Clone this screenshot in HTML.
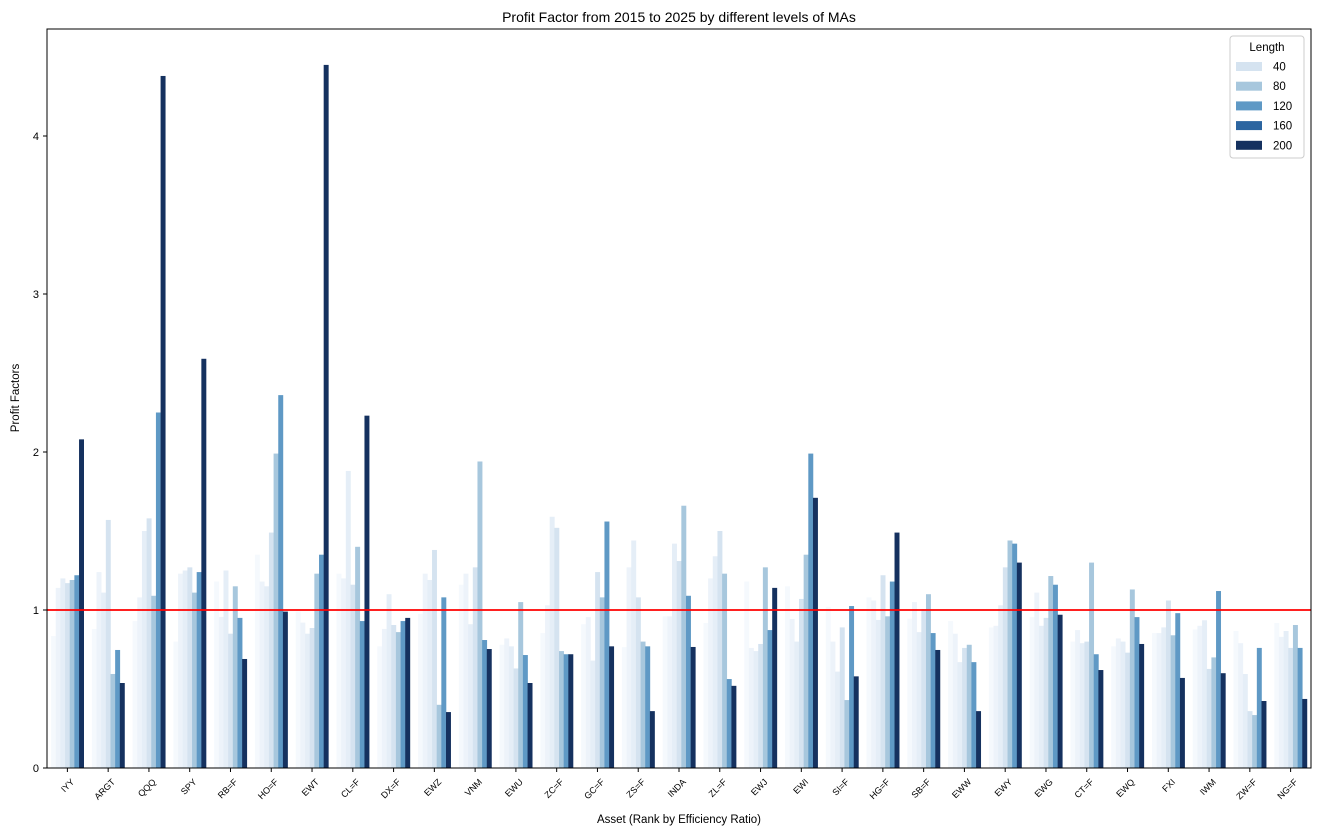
<!DOCTYPE html>
<html><head><meta charset="utf-8"><style>
body{margin:0;background:#fff;}
svg{display:block;font-family:"Liberation Sans",sans-serif;}
</style></head><body>
<svg id="chart" width="1320" height="836" viewBox="0 0 1320 836">
<text x="679" y="22" font-size="14" text-anchor="middle">Profit Factor from 2015 to 2025 by different levels of MAs</text>
<g id="bars"></g>
<g id="yaxis"></g>
<g id="xaxis"></g>
<line x1="47" x2="1311" y1="610" y2="610" stroke="#ff0000" stroke-width="1.8"/>
<rect x="47" y="29" width="1264" height="739" fill="none" stroke="#000" stroke-width="1"/>
<text transform="translate(19,398) rotate(-90)" font-size="11.5" text-anchor="middle">Profit Factors</text>
<text x="679" y="823" font-size="11.5" text-anchor="middle">Asset (Rank by Efficiency Ratio)</text>
<g>
<rect x="1230" y="36" width="74" height="122" rx="3" fill="#fff" fill-opacity="0.8" stroke="#ccc"/>
<text x="1267" y="51" font-size="11.5" text-anchor="middle">Length</text>
<g id="legend-items"></g>
</g>
</svg>
<script>
const categories = ["IYY","ARGT","QQQ","SPY","RB=F","HO=F","EWT","CL=F","DX=F","EWZ","VNM","EWU","ZC=F","GC=F","ZS=F","INDA","ZL=F","EWJ","EWI","SI=F","HG=F","SB=F","EWW","EWY","EWG","CT=F","EWQ","FXI","IWM","ZW=F","NG=F"];
const s1 = [0.835,0.88,0.93,0.80,1.18,1.35,0.99,1.23,0.77,0.975,1.16,0.78,0.854,0.91,0.765,0.96,0.918,1.18,1.15,1.02,1.08,0.945,0.93,0.89,0.955,0.80,0.77,0.854,0.876,0.867,0.918];
const s2 = [1.14,1.24,1.08,1.23,0.956,1.18,0.92,1.20,0.88,1.23,1.23,0.82,1.03,0.955,1.27,0.96,1.20,0.76,0.943,0.80,1.06,1.05,0.85,0.90,1.11,0.873,0.82,0.854,0.90,0.79,0.83];
const s3 = [1.20,1.11,1.50,1.25,1.25,1.15,0.85,1.88,1.10,1.19,0.91,0.77,1.59,0.68,1.44,1.42,1.34,0.74,0.80,0.61,0.937,0.86,0.67,1.03,0.90,0.79,0.80,0.89,0.935,0.595,0.867];
const s4 = [1.17,1.57,1.58,1.27,0.85,1.49,0.886,1.16,0.905,1.38,1.27,0.63,1.52,1.24,1.08,1.31,1.50,0.785,1.07,0.89,1.22,1.006,0.76,1.27,0.95,0.80,0.73,1.06,0.627,0.36,0.76];
const s5 = [1.19,0.595,1.09,1.11,1.15,1.99,1.23,1.40,0.86,0.40,1.94,1.05,0.74,1.08,0.80,1.66,1.23,1.27,1.35,0.43,0.96,1.10,0.78,1.44,1.215,1.30,1.13,0.84,0.70,0.335,0.905];
const s6 = [1.22,0.747,2.25,1.24,0.95,2.36,1.35,0.93,0.93,1.08,0.81,0.715,0.72,1.56,0.77,1.09,0.563,0.873,1.99,1.025,1.18,0.854,0.67,1.42,1.16,0.72,0.955,0.98,1.12,0.76,0.76];
const s7 = [2.08,0.538,4.38,2.59,0.69,0.99,4.45,2.23,0.95,0.354,0.753,0.538,0.72,0.77,0.36,0.766,0.52,1.14,1.71,0.58,1.49,0.747,0.36,1.30,0.97,0.62,0.785,0.57,0.60,0.424,0.437];
const yTicks = [0,1,2,3,4];
const legendLabels = ["40","80","120","160","200"];

const series = [s1,s2,s3,s4,s5,s6,s7];
const colors = ["#f5f9fd","#edf3fa","#e5eef7","#d5e3f0","#a7c7dd","#5f99c5","#15315f"];
const legendColors = ["#d5e3f0","#a7c7dd","#5f99c5","#2c65a0","#15315f"];
const NS = "http://www.w3.org/2000/svg";
const L=47,R=1311,B=768,PXU=158;
const step=(R-L)/categories.length;
const xC=i=>L+step*(i+0.5);
const yS=v=>B-v*PXU;
const bw=step*0.8/series.length;
const bars=document.getElementById('bars');
series.forEach((s,k)=>{
  s.forEach((v,i)=>{
    const r=document.createElementNS(NS,'rect');
    
    
    const x=xC(i)-step*0.4+k*bw;
    r.setAttribute('x',x.toFixed(2));
    r.setAttribute('width',(bw+0.3).toFixed(2));
    r.setAttribute('y',yS(v).toFixed(2));
    r.setAttribute('height',(v*PXU).toFixed(2));
    r.setAttribute('fill',colors[k]);
    bars.appendChild(r);
  });
});
const ya=document.getElementById('yaxis');
yTicks.forEach(t=>{
  const y=yS(t);
  const ln=document.createElementNS(NS,'line');
  
  
  ln.setAttribute('x1',L-4);ln.setAttribute('x2',L);ln.setAttribute('y1',y);ln.setAttribute('y2',y);ln.setAttribute('stroke','#000');
  ya.appendChild(ln);
  const tx=document.createElementNS(NS,'text');
  
  
  tx.setAttribute('x',L-8);tx.setAttribute('y',y+4);tx.setAttribute('font-size','11');tx.setAttribute('text-anchor','end');
  tx.textContent=t;
  ya.appendChild(tx);
});
const xa=document.getElementById('xaxis');
categories.forEach((c,i)=>{
  const x=xC(i);
  const ln=document.createElementNS(NS,'line');
  
  
  ln.setAttribute('x1',x);ln.setAttribute('x2',x);ln.setAttribute('y1',B);ln.setAttribute('y2',B+4);ln.setAttribute('stroke','#000');
  xa.appendChild(ln);
  const tx=document.createElementNS(NS,'text');
  
  
  tx.setAttribute('transform','translate('+(x+3)+','+(B+10)+') rotate(-45)');
  tx.setAttribute('font-size','9');tx.setAttribute('text-anchor','end');tx.setAttribute('dominant-baseline','hanging');
  tx.textContent=c;
  xa.appendChild(tx);
});
const lg=document.getElementById('legend-items');
legendLabels.forEach((lab,j)=>{
  const y=66+j*19.7;
  const r=document.createElementNS(NS,'rect');
  
  
  r.setAttribute('x',1236);r.setAttribute('y',y-4);r.setAttribute('width',26);r.setAttribute('height',9);r.setAttribute('fill',legendColors[j]);
  lg.appendChild(r);
  const t=document.createElementNS(NS,'text');
  
  
  t.setAttribute('x',1273);t.setAttribute('y',y+4.5);t.setAttribute('font-size','11.5');
  t.textContent=lab;
  lg.appendChild(t);
});
</script>
</body></html>
